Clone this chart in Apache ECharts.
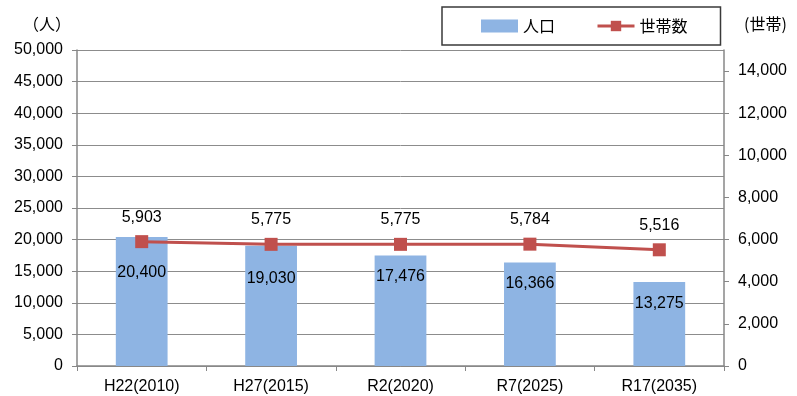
<!DOCTYPE html>
<html>
<head>
<meta charset="utf-8">
<script src="https://cdn.jsdelivr.net/npm/echarts@6/dist/echarts.min.js"></script>
<style>
html,body{margin:0;padding:0;background:#fff;}
#chart{width:797px;height:396px;}
</style>
</head>
<body>
<div id="chart"></div>
<script>
// Population and household projections
const categories = ['H22(2010)', 'H27(2015)', 'R2(2020)', 'R7(2025)', 'R17(2035)'];
const population = [20400, 19030, 17476, 16366, 13275];
const households = [5903, 5775, 5775, 5784, 5516];
const householdTicks = [0, 2000, 4000, 6000, 8000, 10000, 12000, 14000];
// bar labels pushed further down where they would collide with the line marker
const popLabelDistance = [28, 25, 13, 13, 13];

const FONT = '"Liberation Sans", "Noto Sans CJK JP", sans-serif';
const JP = '"Noto Sans CJK JP", sans-serif';
const fmt = v => Number(v).toLocaleString('en-US');
const AXIS_GRAY = '#878787';

const chart = echarts.init(document.getElementById('chart'), null, {renderer: 'canvas'});
chart.setOption({
  animation: false,
  textStyle: {fontFamily: FONT, color: '#000'},
  grid: {left: 77, right: 73, top: 50, bottom: 30, containLabel: false, outerBoundsMode: 'none'},
  // unit caption for the household axis
  graphic: [{
    type: 'text', left: 744, top: 16,
    style: {text: '(世帯)', font: '16px "Noto Sans CJK JP", sans-serif', fill: '#000'}
  }],
  legend: {
    left: 442, top: 7,
    padding: [11, 33, 11, 39],
    itemGap: 41,
    itemWidth: 37, itemHeight: 13,
    borderColor: '#3a3a3a', borderWidth: 1.5,
    textStyle: {fontFamily: JP, fontSize: 16, color: '#000'},
    data: [
      {name: '人口', icon: 'rect'},
      {name: '世帯数', lineStyle: {width: 3, color: '#C0504D'}}
    ]
  },
  xAxis: {
    type: 'category',
    data: categories,
    boundaryGap: true,
    axisLine: {lineStyle: {color: AXIS_GRAY, width: 1.5}},
    axisTick: {show: true, length: 5, lineStyle: {color: AXIS_GRAY}},
    axisLabel: {fontSize: 16, color: '#000', margin: 13, fontFamily: FONT}
  },
  yAxis: [
    {
      type: 'value', min: 0, max: 50000, interval: 5000,
      name: '（人）',
      nameLocation: 'end', nameGap: 18,
      nameTextStyle: {fontFamily: JP, fontSize: 16, color: '#000', align: 'right', padding: [0, 6, 0, 0]},
      axisLine: {show: true, lineStyle: {color: AXIS_GRAY, width: 1.5}},
      axisTick: {show: true, length: 5, lineStyle: {color: AXIS_GRAY}},
      splitLine: {show: true, lineStyle: {color: '#8c8c8c', width: 1}},
      axisLabel: {fontSize: 16, color: '#000', margin: 14, formatter: fmt}
    },
    {
      type: 'value', min: 0, max: 15000,
      position: 'right',
      axisLine: {show: true, lineStyle: {color: AXIS_GRAY, width: 1.5}},
      axisTick: {show: true, length: 5, customValues: householdTicks, lineStyle: {color: AXIS_GRAY}},
      splitLine: {show: false},
      axisLabel: {fontSize: 16, color: '#000', margin: 14, customValues: householdTicks, formatter: fmt}
    }
  ],
  series: [
    {
      name: '人口',
      type: 'bar',
      yAxisIndex: 0,
      barWidth: '40%',
      itemStyle: {color: '#8EB4E3'},
      data: population.map((v, i) => ({
        value: v,
        label: {distance: popLabelDistance[i]}
      })),
      label: {
        show: true, position: 'insideTop',
        fontSize: 16, color: '#000', fontFamily: FONT,
        formatter: p => fmt(p.value)
      },
      z: 2
    },
    {
      name: '世帯数',
      type: 'line',
      yAxisIndex: 1,
      data: households,
      symbol: 'rect',
      symbolSize: 13,
      lineStyle: {color: '#C0504D', width: 3},
      itemStyle: {color: '#C0504D'},
      label: {
        show: true, position: 'top', distance: 10,
        fontSize: 16, color: '#000', fontFamily: FONT,
        formatter: p => fmt(p.value)
      },
      z: 3
    }
  ]
});
</script>
</body>
</html>
